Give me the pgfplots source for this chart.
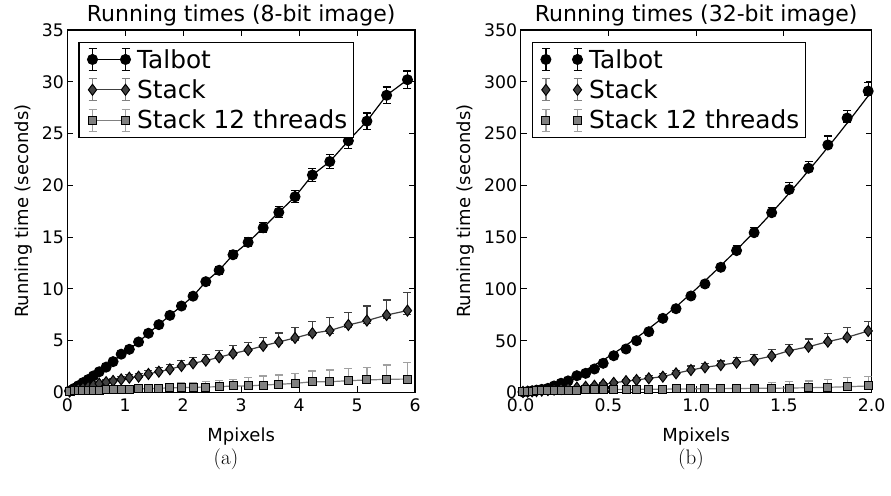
\documentclass[border=0pt]{standalone}
\usepackage{fontspec}
\usepackage{pgfplots}
\usepackage{pgfplotstable}
\pgfplotsset{compat=1.18}
\newfontfamily\dv{DejaVu Sans}
\definecolor{dgray}{HTML}{404040}
\definecolor{mgray}{HTML}{808080}
\definecolor{lgray}{HTML}{A0A0A0}

% ---------- 8-bit image ----------
\pgfplotstableread{
x y ep em
0.04 0.15 0.02 0.02
0.12 0.40 0.03 0.03
0.19 0.65 0.03 0.03
0.27 0.95 0.04 0.04
0.36 1.25 0.05 0.05
0.45 1.60 0.05 0.05
0.55 2.00 0.06 0.06
0.67 2.45 0.07 0.07
0.79 2.98 0.09 0.09
0.93 3.70 0.11 0.11
1.07 4.17 0.12 0.12
1.23 4.88 0.14 0.14
1.40 5.72 0.17 0.17
1.58 6.55 0.20 0.20
1.77 7.45 0.22 0.22
1.97 8.35 0.25 0.25
2.17 9.30 0.28 0.28
2.39 10.70 0.32 0.32
2.62 11.80 0.35 0.35
2.86 13.30 0.40 0.40
3.12 14.50 0.43 0.43
3.38 15.90 0.48 0.48
3.65 17.40 0.52 0.52
3.93 18.90 0.57 0.57
4.23 21.00 0.63 0.63
4.53 22.30 0.67 0.67
4.85 24.30 0.75 0.75
5.17 26.20 0.78 0.78
5.51 28.70 0.80 0.80
5.87 30.20 0.85 0.85
}\LT
\pgfplotstableread{
x y ep em
0.04 0.10 0.03 0.01
0.12 0.25 0.06 0.01
0.19 0.35 0.08 0.02
0.27 0.45 0.10 0.02
0.36 0.55 0.12 0.02
0.45 0.70 0.14 0.03
0.55 0.85 0.17 0.03
0.67 1.00 0.20 0.04
0.79 1.12 0.22 0.04
0.93 1.27 0.25 0.05
1.07 1.43 0.28 0.06
1.23 1.53 0.30 0.06
1.40 1.79 0.35 0.07
1.58 2.01 0.40 0.08
1.77 2.24 0.45 0.09
1.97 2.56 0.50 0.10
2.17 2.82 0.55 0.11
2.39 3.08 0.60 0.12
2.62 3.40 0.65 0.13
2.86 3.76 0.74 0.15
3.12 4.10 0.75 0.15
3.38 4.50 0.81 0.16
3.65 4.88 0.87 0.17
3.93 5.27 1.04 0.21
4.23 5.72 1.13 0.23
4.53 5.98 1.26 0.25
4.85 6.52 1.20 0.24
5.17 6.94 1.42 0.28
5.51 7.48 1.45 0.29
5.87 7.91 1.75 0.35
}\LS
\pgfplotstableread{
x y ep em
0.04 0.13 0.03 0.01
0.12 0.15 0.04 0.01
0.19 0.16 0.05 0.01
0.27 0.18 0.06 0.01
0.36 0.20 0.08 0.02
0.45 0.22 0.10 0.02
0.55 0.24 0.12 0.02
0.67 0.26 0.14 0.03
0.79 0.28 0.17 0.03
0.93 0.30 0.20 0.04
1.07 0.32 0.24 0.05
1.23 0.35 0.28 0.06
1.40 0.38 0.32 0.06
1.58 0.41 0.36 0.07
1.77 0.44 0.40 0.08
1.97 0.47 0.45 0.09
2.17 0.50 0.50 0.10
2.39 0.53 0.55 0.11
2.62 0.56 0.60 0.12
2.86 0.63 0.64 0.13
3.12 0.63 0.84 0.17
3.38 0.72 0.87 0.17
3.65 0.79 0.90 0.18
3.93 0.88 0.97 0.19
4.23 1.04 1.04 0.21
4.53 1.04 1.13 0.23
4.85 1.14 1.20 0.24
5.17 1.21 1.22 0.24
5.51 1.27 1.39 0.28
5.87 1.30 1.58 0.32
}\LQ
% ---------- 32-bit image ----------
\pgfplotstableread{
x y ep em
0.013 0.5 0.1 0.1
0.040 1.0 0.1 0.1
0.065 1.5 0.1 0.1
0.090 2.2 0.1 0.1
0.120 3.0 0.1 0.1
0.155 4.0 0.2 0.1
0.190 6.3 0.2 0.1
0.230 8.9 0.3 0.1
0.270 11.2 0.3 0.2
0.320 16.2 0.5 0.2
0.370 18.5 0.6 0.3
0.420 22.7 0.7 0.3
0.470 28.2 0.8 0.4
0.530 35.5 1.1 0.5
0.600 42.0 1.3 0.6
0.660 50.0 1.5 0.8
0.730 58.7 1.8 0.9
0.810 71.6 2.1 1.1
0.885 80.9 2.4 1.2
0.970 93.2 2.8 1.4
1.050 104.8 3.1 1.6
1.140 120.9 4.0 1.8
1.230 137.0 5.0 2.1
1.330 154.3 5.2 2.3
1.430 173.6 5.0 2.6
1.530 196.0 7.0 2.9
1.640 216.5 6.4 3.2
1.750 239.0 8.7 3.6
1.860 265.0 7.0 4.0
1.980 291.0 8.5 4.4
}\RT
\pgfplotstableread{
x y
0.0 0.0
0.1 2.88
0.2 8.39
0.3 15.7
0.4 24.4
0.5 34.4
0.6 45.5
0.7 57.7
0.8 70.9
0.9 85.0
1.0 100.0
1.1 115.8
1.2 132.4
1.3 149.8
1.4 167.9
1.5 186.7
1.6 206.2
1.7 226.4
1.8 247.2
1.9 268.7
2.0 290.8
}\RF
\pgfplotstableread{
x y ep em
0.013 0.5 0.10 0.02
0.040 0.8 0.15 0.03
0.065 1.1 0.20 0.04
0.090 1.4 0.25 0.05
0.120 1.8 0.30 0.06
0.155 2.3 0.40 0.08
0.190 2.8 0.50 0.10
0.230 3.4 0.60 0.12
0.270 4.0 0.70 0.14
0.320 4.7 0.80 0.16
0.370 5.5 1.00 0.20
0.420 6.5 1.20 0.24
0.470 7.9 1.40 0.28
0.530 9.3 1.60 0.32
0.600 11.0 1.90 0.38
0.660 12.1 2.10 0.42
0.730 13.7 2.40 0.48
0.810 15.3 2.70 0.54
0.885 18.5 3.00 0.60
0.970 21.7 3.90 0.78
1.050 24.3 3.90 0.78
1.140 26.5 4.00 0.80
1.230 28.8 5.20 1.04
1.330 31.4 5.50 1.10
1.430 35.2 6.50 1.30
1.530 40.4 6.00 1.20
1.640 44.2 7.50 1.50
1.750 49.1 8.00 1.60
1.860 53.3 9.70 1.94
1.980 59.4 9.00 1.80
}\RS
\pgfplotstableread{
x y ep em
0.013 1.0 0.20 0.04
0.040 1.2 0.25 0.05
0.065 1.4 0.30 0.06
0.090 1.5 0.35 0.07
0.120 1.7 0.40 0.08
0.155 1.8 0.45 0.09
0.190 2.0 0.50 0.10
0.230 2.1 0.60 0.12
0.270 2.2 0.70 0.14
0.320 2.4 0.80 0.16
0.370 2.5 0.90 0.18
0.420 2.6 1.00 0.20
0.470 2.7 1.20 0.24
0.530 2.8 1.40 0.28
0.600 2.9 1.60 0.32
0.660 3.0 1.80 0.36
0.730 3.1 2.00 0.40
0.810 3.2 2.20 0.44
0.885 3.4 2.40 0.48
0.970 3.5 2.70 0.54
1.050 3.6 3.00 0.60
1.140 3.7 3.20 0.64
1.230 3.9 3.50 0.70
1.330 4.0 4.00 0.80
1.430 4.1 5.50 1.10
1.530 4.3 6.00 1.20
1.640 4.6 6.50 1.30
1.750 5.0 7.70 1.54
1.860 5.6 8.70 1.74
1.980 6.3 9.00 1.80
}\RQ

\pgfplotsset{
  myax/.style={
    scale only axis, height=362.5pt,
    axis line style={line width=1.2pt},
    every tick/.style={line width=1pt, black},
    major tick length=6pt,
    tick align=inside,
    xtick pos=both, ytick pos=both,
    ticklabel style={font=\dv\fontsize{17.3}{20}\selectfont},
    xticklabel style={yshift=-3pt},
    label style={font=\dv\fontsize{18}{21}\selectfont},
    xlabel style={yshift=-9pt},
    ylabel style={yshift=3pt},
    title style={font=\dv\fontsize{22}{26}\selectfont, yshift=-6pt},
    /pgf/number format/assume math mode=true,
    ymin=0,
    legend cell align=left,
    legend style={at={(0,1)}, anchor=north west, xshift=11pt, yshift=-11.7pt,
      draw=black, line width=1.2pt, font=\dv\fontsize{24.8}{29}\selectfont,
      row sep=6pt, inner xsep=4pt, inner ysep=5pt},
    every axis plot/.append style={line width=1.2pt},
  },
  errs/.style={error bars/y dir=both, error bars/y explicit,
      error bars/error bar style={line width=1.2pt, #1},
      error bars/error mark options={rotate=90, mark size=4pt, line width=1.2pt, #1}},
  limg/.style n args={3}{legend image code/.code={%
      \path (-9pt,0pt) (#3+9pt,0pt);
      \draw[#1, line width=1.2pt] (0pt,-11pt) -- (0pt,11pt) (-4pt,-11pt) -- (4pt,-11pt) (-4pt,11pt) -- (4pt,11pt)
        (#3,-11pt) -- (#3,11pt) (#3-4pt,-11pt) -- (#3+4pt,-11pt) (#3-4pt,11pt) -- (#3+4pt,11pt);
      \draw[##1, #2] plot coordinates {(0pt,0pt) (#3,0pt)};}},
}

\begin{document}
\begin{tikzpicture}
\path[use as bounding box] (0,0) rectangle (891pt,495pt);
% ---------------- (a) ----------------
\begin{axis}[myax, at={(67.3pt,102.5pt)}, anchor=south west, width=347.7pt,
  xmin=0, xmax=6, ymax=35,
  xtick={0,1,...,6}, ytick={0,5,...,35},
  title={Running times (8-bit image)},
  xlabel={Mpixels}, ylabel={Running time (seconds)},
]
\addplot[black, mark=*, mark size=5pt, mark options={solid, fill=black, draw=black, line width=1pt},
  errs=black, limg={black}{}{33pt}]
  table[x=x, y=y, y error plus=ep, y error minus=em] {\LT};
\addlegendentry{Talbot}
\addplot[dgray, mark=diamond*, mark size=5.5pt, mark options={solid, fill=dgray, draw=black, line width=1pt},
  errs=dgray, limg={mgray}{}{33pt}]
  table[x=x, y=y, y error plus=ep, y error minus=em] {\LS};
\addlegendentry{Stack}
\addplot[mgray, mark=square*, mark size=4pt, mark options={solid, fill=mgray, draw=black, line width=1pt},
  errs=lgray, limg={lgray}{}{33pt}]
  table[x=x, y=y, y error plus=ep, y error minus=em] {\LQ};
\addlegendentry{Stack 12 threads}
\end{axis}
% ---------------- (b) ----------------
\begin{axis}[myax, at={(520.7pt,102.5pt)}, anchor=south west, width=351pt,
  xmin=0, xmax=2, ymax=350,
  xtick={0,0.5,...,2}, ytick={0,50,...,350},
  xticklabel style={/pgf/number format/.cd, fixed, fixed zerofill, precision=1},
  title={Running times (32-bit image)},
  xlabel={Mpixels}, ylabel={Running time (seconds)},
]
\addplot[black, only marks, mark=*, mark size=5pt, mark options={solid, fill=black, draw=black, line width=1pt},
  errs=black, limg={black}{draw=none}{31.6pt}]
  table[x=x, y=y, y error plus=ep, y error minus=em] {\RT};
\addlegendentry{Talbot}
\addplot[dgray, mark=diamond*, mark size=5.5pt, mark options={solid, fill=dgray, draw=black, line width=1pt},
  errs=dgray, limg={mgray}{draw=none}{31.6pt}]
  table[x=x, y=y, y error plus=ep, y error minus=em] {\RS};
\addlegendentry{Stack}
\addplot[mgray, mark=square*, mark size=4pt, mark options={solid, fill=mgray, draw=black, line width=1pt},
  errs=lgray, limg={lgray}{draw=none}{31.6pt}]
  table[x=x, y=y, y error plus=ep, y error minus=em] {\RQ};
\addlegendentry{Stack 12 threads}
\addplot[black, no marks, line width=1.2pt, forget plot] table[x=x, y=y] {\RF};
\end{axis}
\node[font=\fontsize{21}{25}\selectfont] at (226pt,36pt) {(a)};
\node[font=\fontsize{21}{25}\selectfont] at (691pt,36pt) {(b)};
\end{tikzpicture}
\end{document}
